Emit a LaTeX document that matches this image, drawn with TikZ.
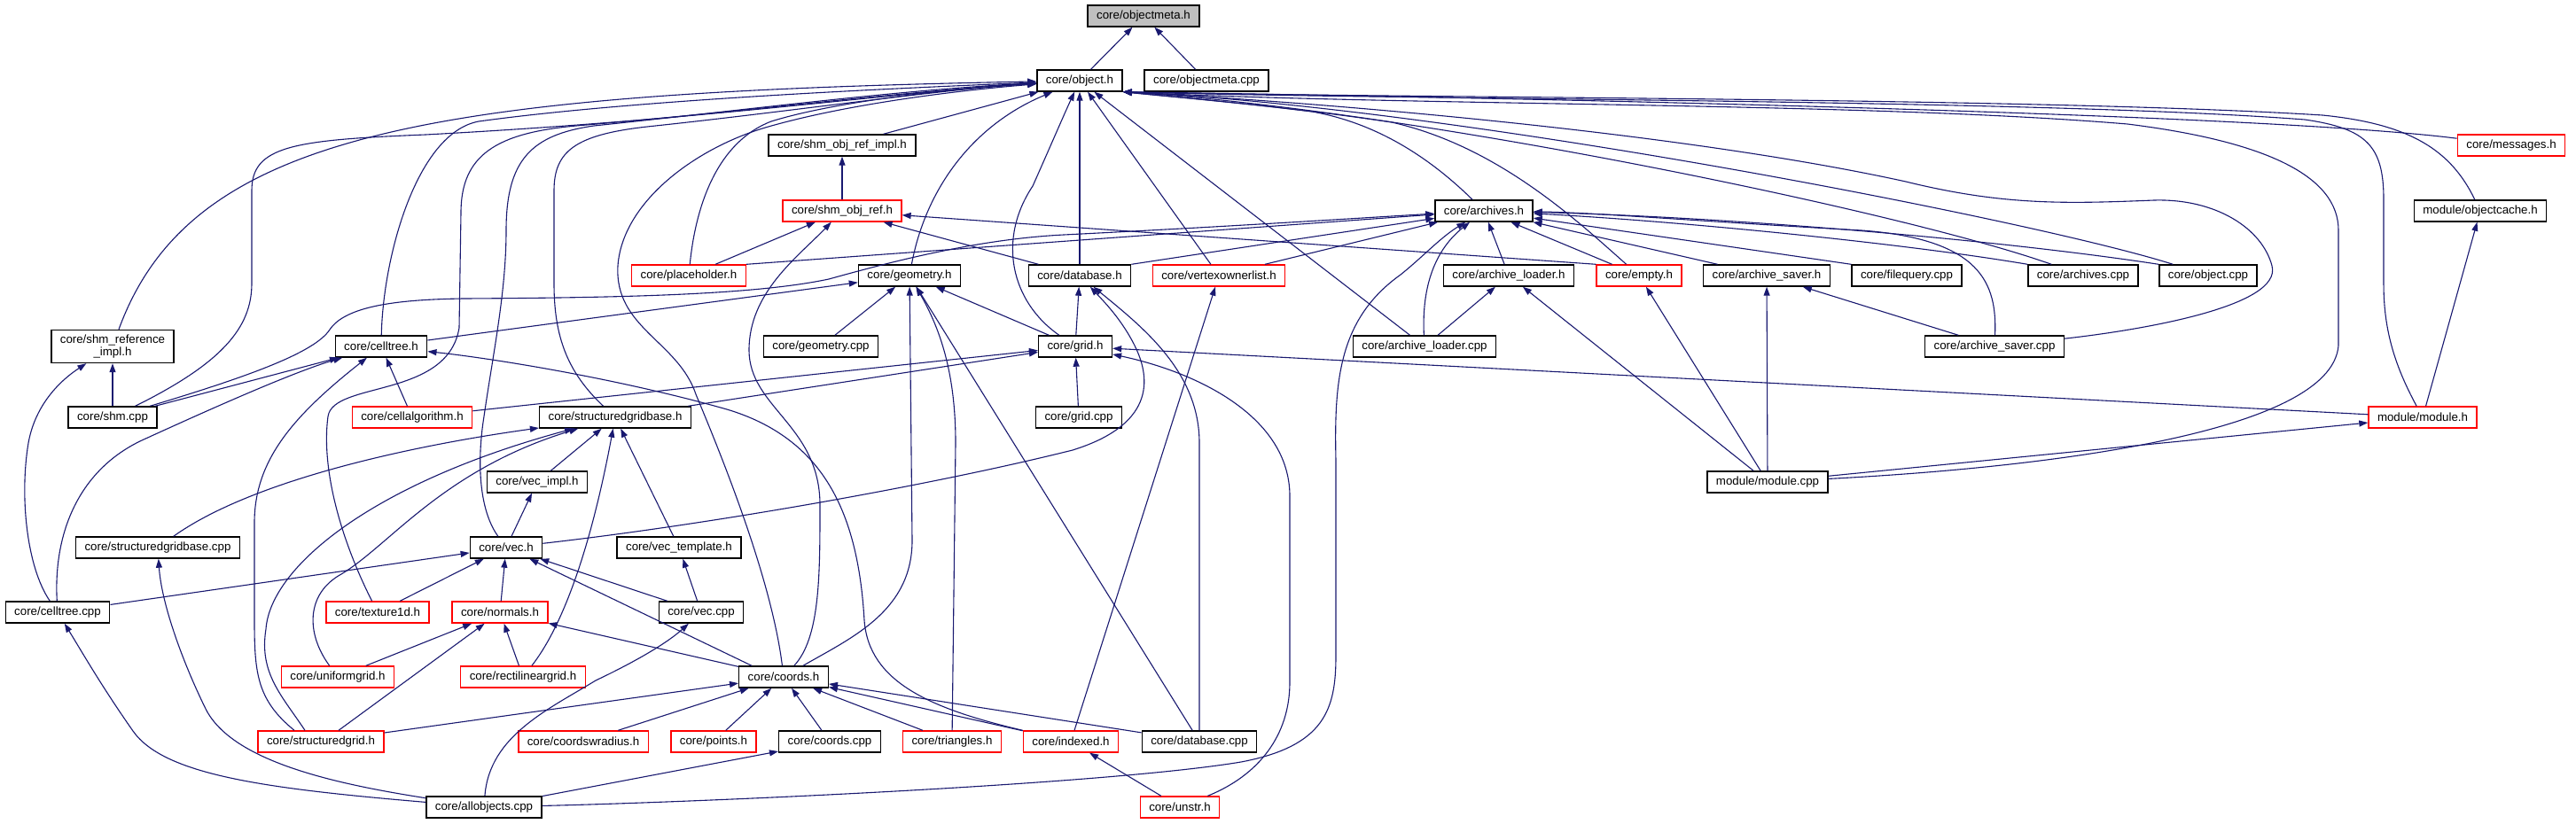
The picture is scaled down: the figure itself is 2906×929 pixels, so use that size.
\documentclass[tikz,border=0pt]{standalone}
\usepackage{fontspec}
\setmainfont{Liberation Sans}
\usetikzlibrary{arrows.meta}
\definecolor{blunotte}{HTML}{191970}
\definecolor{grigio}{HTML}{BFBFBF}

\begin{document}
\begin{tikzpicture}[x=1pt,y=1pt,
    nodo/.style={draw=black, line width=1.4pt, fill=white, minimum height=24pt,
        inner xsep=10pt, inner ysep=2pt, font=\fontsize{13.3pt}{14pt}\selectfont},
    nodorosso/.style={nodo, draw=red},
    nodogrigio/.style={nodo, fill=grigio},
    freccia/.style={draw=blunotte, line width=1.1pt, -{Triangle[length=10pt,width=7pt]}}]
    \path[use as bounding box, fill=white] (0,0) rectangle (2906,-929);

    % Nodi principali
    \node [nodogrigio](objmetah) at (1290,-18) {core/objectmeta.h};
    \node [nodo](objecth) at (1218,-91) {core/object.h};
    \node [nodo](objmetacpp) at (1361,-91) {core/objectmeta.cpp};
    \node [nodo](shmobjimplh) at (950,-164) {core/shm\_obj\_ref\_impl.h};
    \node [nodorosso](messagesh) at (2833,-164) {core/messages.h};
    \node [nodorosso](shmobjrefh) at (950,-238) {core/shm\_obj\_ref.h};
    \node [nodo](archivesh) at (1674,-238) {core/archives.h};
    \node [nodo](objcacheh) at (2798,-238) {module/objectcache.h};
    \node [nodorosso](placeholderh) at (777,-311) {core/placeholder.h};
    \node [nodo](geometryh) at (1026,-311) {core/geometry.h};
    \node [nodo](databaseh) at (1218,-311) {core/database.h};
    \node [nodorosso](vertexh) at (1375,-311) {core/vertexownerlist.h};
    \node [nodo](loaderh) at (1702,-311) {core/archive\_loader.h};
    \node [nodorosso](emptyh) at (1849,-311) {core/empty.h};
    \node [nodo](saverh) at (1993,-311) {core/archive\_saver.h};
    \node [nodo](filequerycpp) at (2151,-311) {core/filequery.cpp};
    \node [nodo](archivescpp) at (2350,-311) {core/archives.cpp};
    \node [nodo](objectcpp) at (2491,-311) {core/object.cpp};
    \node [nodo, align=center, minimum height=37pt](shmrefimplh) at (127,-391) {core/shm\_reference\\\_impl.h};
    \node [nodo](celltreeh) at (430,-391) {core/celltree.h};
    \node [nodo](geometrycpp) at (926,-391) {core/geometry.cpp};
    \node [nodo](gridh) at (1213,-391) {core/grid.h};
    \node [nodo](loadercpp) at (1607,-391) {core/archive\_loader.cpp};
    \node [nodo](savercpp) at (2250,-391) {core/archive\_saver.cpp};
    \node [nodo](shmcpp) at (127,-471) {core/shm.cpp};
    \node [nodorosso](cellalgh) at (465,-471) {core/cellalgorithm.h};
    \node [nodo](sgbaseh) at (694,-471) {core/structuredgridbase.h};
    \node [nodo](gridcpp) at (1217,-471) {core/grid.cpp};
    \node [nodorosso](moduleh) at (2733,-471) {module/module.h};
    \node [nodo](vecimplh) at (606,-544) {core/vec\_impl.h};
    \node [nodo](modulecpp) at (1994,-544) {module/module.cpp};
    \node [nodo](sgbasecpp) at (178,-618) {core/structuredgridbase.cpp};
    \node [nodo](vech) at (571,-618) {core/vec.h};
    \node [nodo](vectemplh) at (766,-618) {core/vec\_template.h};
    \node [nodo](celltreecpp) at (65,-691) {core/celltree.cpp};
    \node [nodorosso](texture1dh) at (426,-691) {core/texture1d.h};
    \node [nodorosso](normalsh) at (564,-691) {core/normals.h};
    \node [nodo](veccpp) at (791,-691) {core/vec.cpp};
    \node [nodorosso](uniformh) at (381,-764) {core/uniformgrid.h};
    \node [nodorosso](rectilinh) at (590,-764) {core/rectilineargrid.h};
    \node [nodo](coordsh) at (884,-764) {core/coords.h};
    \node [nodorosso](sgridh) at (362,-837) {core/structuredgrid.h};
    \node [nodorosso](coordswrh) at (658,-837) {core/coordswradius.h};
    \node [nodorosso](pointsh) at (805,-837) {core/points.h};
    \node [nodo](coordscpp) at (936,-837) {core/coords.cpp};
    \node [nodorosso](trianglesh) at (1074,-837) {core/triangles.h};
    \node [nodorosso](indexedh) at (1208,-837) {core/indexed.h};
    \node [nodo](databasecpp) at (1353,-837) {core/database.cpp};
    \node [nodo](allobjcpp) at (546,-911) {core/allobjects.cpp};
    \node [nodorosso](unstrh) at (1331,-911) {core/unstr.h};

    % Archi verso objectmeta.h
    \draw[freccia] (objecth) -- (objmetah);
    \draw[freccia] (objmetacpp) -- (objmetah);

    % Archi verso object.h (da sinistra)
    \draw[freccia] (shmrefimplh) .. controls (215,-150) and (480,-105) .. (objecth);
    \draw[freccia] (shmcpp) .. controls (250,-410) and (284,-370) .. (284,-320) -- (284,-215) .. controls (284,-165) and (330,-158) .. (480,-152) .. controls (800,-135) and (1000,-105) .. (objecth);
    \draw[freccia] (celltreeh) .. controls (432,-290) and (470,-150) .. (540,-137) .. controls (700,-115) and (950,-102) .. (objecth);
    \draw[freccia] (texture1dh) .. controls (385,-610) and (362,-530) .. (370,-470) .. controls (376,-430) and (505,-450) .. (518,-370) -- (520,-240) .. controls (520,-175) and (560,-150) .. (650,-142) .. controls (850,-125) and (1000,-105) .. (objecth);
    \draw[freccia] (vech) .. controls (540,-575) and (538,-520) .. (546,-470) .. controls (556,-400) and (571,-330) .. (571,-260) .. controls (571,-180) and (600,-152) .. (670,-142) .. controls (860,-122) and (1010,-102) .. (objecth);
    \draw[freccia] (sgbaseh) .. controls (640,-420) and (625,-380) .. (625,-320) -- (625,-215) .. controls (625,-170) and (650,-152) .. (730,-143) .. controls (900,-125) and (1050,-102) .. (objecth);
    \draw[freccia] (coordsh) .. controls (870,-650) and (810,-505) .. (785,-445) .. controls (765,-385) and (693,-370) .. (697,-300) .. controls (702,-230) and (780,-170) .. (860,-145) .. controls (950,-118) and (1080,-102) .. (objecth);
    \draw[freccia] (placeholderh) .. controls (785,-230) and (810,-160) .. (870,-137) .. controls (950,-112) and (1100,-98) .. (objecth);
    \draw[freccia] (shmobjimplh) -- (objecth);
    \draw[freccia] (geometryh) .. controls (1045,-210) and (1100,-140) .. (objecth);
    \draw[freccia] (gridh) .. controls (1140,-340) and (1125,-270) .. (1165,-210) .. controls (1185,-165) and (1200,-130) .. (objecth);
    \draw[freccia] (databaseh) -- (objecth);
    \draw[freccia] (vertexh) -- (objecth);
    \draw[freccia] (loadercpp) -- (objecth);
    \draw[freccia] (archivesh) .. controls (1620,-185) and (1560,-140) .. (1480,-126) .. controls (1400,-116) and (1330,-110) .. (objecth.south east);
    \draw[freccia] (emptyh) .. controls (1780,-250) and (1690,-165) .. (1570,-138) .. controls (1450,-120) and (1330,-110) .. (objecth.south east);

    % Archi verso object.h (da destra)
    \draw[freccia] (archivescpp) .. controls (2150,-240) and (1600,-125) .. (objecth.south east);
    \draw[freccia] (objectcpp) .. controls (2300,-250) and (1650,-122) .. (objecth.south east);
    \draw[freccia] (savercpp) .. controls (2420,-372) and (2575,-345) .. (2563,-300) .. controls (2552,-258) and (2500,-224) .. (2430,-226) .. controls (2330,-230) and (2260,-232) .. (2150,-205) .. controls (1900,-150) and (1500,-116) .. (objecth.south east);
    \draw[freccia] (modulecpp) .. controls (2300,-528) and (2630,-490) .. (2638,-390) -- (2638,-260) .. controls (2638,-200) and (2560,-160) .. (2400,-140) .. controls (2100,-115) and (1600,-120) .. (objecth.south east);
    \draw[freccia] (moduleh) .. controls (2700,-410) and (2689,-370) .. (2689,-320) -- (2689,-225) .. controls (2689,-165) and (2670,-145) .. (2600,-135) .. controls (2300,-112) and (1600,-113) .. (objecth.south east);
    \draw[freccia] (objcacheh) .. controls (2765,-170) and (2720,-140) .. (2620,-130) .. controls (2300,-110) and (1600,-111) .. (objecth.south east);
    \draw[freccia] (messagesh) .. controls (2550,-128) and (1700,-110) .. (objecth.south east);

    % Archi verso shm_obj_ref
    \draw[freccia] (shmobjrefh) -- (shmobjimplh);
    \draw[freccia] (placeholderh) -- (shmobjrefh);
    \draw[freccia] (coordsh) .. controls (925,-720) and (925,-650) .. (925,-570) .. controls (925,-480) and (845,-460) .. (845,-395) .. controls (845,-330) and (900,-290) .. (shmobjrefh);
    \draw[freccia] (databaseh) -- (shmobjrefh);
    \draw[freccia] (emptyh.north west) -- (shmobjrefh);

    % Archi verso archives.h
    \draw[freccia] (placeholderh.north east) -- (archivesh);
    \draw[freccia] (shmcpp) .. controls (280,-425) and (355,-398) .. (372,-372) .. controls (390,-345) and (450,-338) .. (523,-337) .. controls (700,-336) and (850,-333) .. (935,-315) .. controls (1000,-297) and (1100,-270) .. (1200,-265) .. controls (1400,-255) and (1550,-245) .. (archivesh);
    \draw[freccia] (databaseh.north east) -- (archivesh);
    \draw[freccia] (vertexh) -- (archivesh);
    \draw[freccia] (loaderh) -- (archivesh);
    \draw[freccia] (emptyh) -- (archivesh);
    \draw[freccia] (loadercpp) .. controls (1604,-330) and (1615,-285) .. (archivesh);
    \draw[freccia] (allobjcpp) .. controls (800,-905) and (1250,-885) .. (1400,-860) .. controls (1495,-842) and (1507,-800) .. (1507,-740) -- (1507,-520) .. controls (1505,-430) and (1510,-360) .. (1580,-310) .. controls (1605,-290) and (1625,-268) .. (archivesh);
    \draw[freccia] (saverh) -- (archivesh);
    \draw[freccia] (filequerycpp.north west) -- (archivesh);
    \draw[freccia] (archivescpp.north west) .. controls (2150,-275) and (1900,-250) .. (archivesh);
    \draw[freccia] (objectcpp.north west) .. controls (2250,-270) and (1950,-245) .. (archivesh);
    \draw[freccia] (savercpp) .. controls (2253,-320) and (2235,-270) .. (2100,-260) .. controls (1920,-250) and (1800,-240) .. (archivesh);

    % Loader, saver, modulo
    \draw[freccia] (loadercpp) -- (loaderh);
    \draw[freccia] (modulecpp) -- (loaderh);
    \draw[freccia] (modulecpp) -- (emptyh);
    \draw[freccia] (savercpp) -- (saverh);
    \draw[freccia] (modulecpp) -- (saverh);
    \draw[freccia] (modulecpp) -- (moduleh);
    \draw[freccia] (moduleh) -- (objcacheh);
    \draw[freccia] (moduleh) -- (gridh);

    % Archi verso geometry.h
    \draw[freccia] (celltreeh) -- (geometryh);
    \draw[freccia] (geometrycpp) -- (geometryh);
    \draw[freccia] (gridh) -- (geometryh);
    \draw[freccia] (coordsh) .. controls (960,-720) and (1029,-690) .. (1029,-610) -- (geometryh);
    \draw[freccia] (trianglesh) -- (1078,-500) .. controls (1078,-420) and (1060,-370) .. (geometryh);
    \draw[freccia] (databasecpp) -- (geometryh);

    % Archi verso database.h e vertexownerlist.h
    \draw[freccia] (gridh) -- (databaseh);
    \draw[freccia] (vech) .. controls (800,-592) and (1050,-548) .. (1210,-508) .. controls (1300,-480) and (1300,-430) .. (1280,-390) .. controls (1265,-360) and (1245,-340) .. (databaseh);
    \draw[freccia] (databasecpp) -- (1353,-500) .. controls (1353,-420) and (1290,-370) .. (databaseh);
    \draw[freccia] (indexedh) -- (vertexh);

    % Archi verso grid.h
    \draw[freccia] (gridcpp) -- (gridh);
    \draw[freccia] (cellalgh) -- (gridh);
    \draw[freccia] (sgbaseh) -- (gridh);
    \draw[freccia] (unstrh) .. controls (1420,-875) and (1455,-830) .. (1455,-770) -- (1455,-560) .. controls (1455,-470) and (1350,-420) .. (gridh);

    % Archi verso celltree.h e shm_reference_impl.h
    \draw[freccia] (shmcpp) -- (celltreeh);
    \draw[freccia] (celltreecpp) .. controls (60,-600) and (90,-530) .. (160,-497) .. controls (230,-465) and (330,-420) .. (celltreeh);
    \draw[freccia] ([xshift=-30pt]sgridh.north) .. controls (290,-790) and (287,-760) .. (287,-700) -- (287,-590) .. controls (287,-520) and (330,-470) .. (celltreeh);
    \draw[freccia] (cellalgh) -- (celltreeh);
    \draw[freccia] (indexedh) .. controls (1050,-800) and (980,-770) .. (975,-700) .. controls (968,-580) and (930,-495) .. (820,-462) .. controls (700,-428) and (560,-405) .. (celltreeh);
    \draw[freccia] (shmcpp) -- (shmrefimplh);
    \draw[freccia] (celltreecpp) .. controls (30,-640) and (22,-560) .. (32,-500) .. controls (40,-455) and (70,-428) .. (shmrefimplh);

    % Archi verso structuredgridbase.h
    \draw[freccia] (sgbasecpp) .. controls (280,-545) and (450,-505) .. (sgbaseh);
    \draw[freccia] ([xshift=-18pt]sgridh.north) .. controls (318,-785) and (292,-760) .. (300,-710) .. controls (305,-640) and (420,-545) .. (sgbaseh);
    \draw[freccia] (uniformh) .. controls (345,-715) and (345,-670) .. (385,-648) .. controls (440,-615) and (500,-530) .. (sgbaseh);
    \draw[freccia] (vecimplh) -- (sgbaseh);
    \draw[freccia] (rectilinh) .. controls (640,-700) and (670,-600) .. (sgbaseh);
    \draw[freccia] (vectemplh) -- (sgbaseh);

    % Archi verso vec.h
    \draw[freccia] (vech) -- (vecimplh);
    \draw[freccia] (celltreecpp) -- (vech);
    \draw[freccia] (texture1dh) -- (vech);
    \draw[freccia] (normalsh) -- (vech);
    \draw[freccia] ([xshift=-36pt]coordsh.north) -- (vech);
    \draw[freccia] (veccpp) -- (vech);
    \draw[freccia] (veccpp) -- (vectemplh);

    % Archi da allobjects.cpp
    \draw[freccia] (allobjcpp) .. controls (380,-885) and (262,-860) .. (232,-800) .. controls (205,-745) and (182,-680) .. (sgbasecpp);
    \draw[freccia] (allobjcpp) .. controls (300,-890) and (185,-875) .. (150,-825) .. controls (115,-775) and (95,-740) .. (celltreecpp);
    \draw[freccia] (allobjcpp) .. controls (552,-830) and (620,-800) .. (672,-768) .. controls (710,-750) and (750,-728) .. (veccpp);
    \draw[freccia] (allobjcpp) -- (coordscpp);

    % Archi verso normals.h
    \draw[freccia] (uniformh) -- (normalsh);
    \draw[freccia] ([xshift=20pt]sgridh.north) -- (normalsh);
    \draw[freccia] (rectilinh) -- (normalsh);
    \draw[freccia] (coordsh) -- (normalsh);

    % Archi verso coords.h
    \draw[freccia] (sgridh) -- (coordsh);
    \draw[freccia] (coordswrh) -- (coordsh);
    \draw[freccia] (pointsh) -- (coordsh);
    \draw[freccia] (coordscpp) -- (coordsh);
    \draw[freccia] (trianglesh) -- (coordsh);
    \draw[freccia] (indexedh) -- (coordsh);
    \draw[freccia] (databasecpp) -- (coordsh);
    \draw[freccia] (unstrh) -- (indexedh);
\end{tikzpicture}
\end{document}
